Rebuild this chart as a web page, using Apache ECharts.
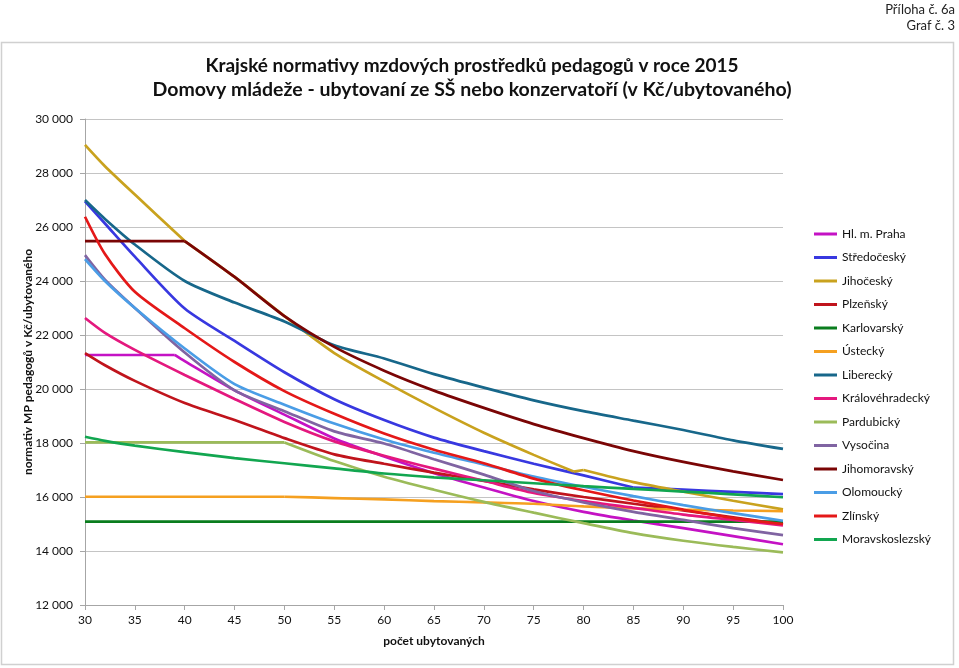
<!DOCTYPE html>
<html><head><meta charset="utf-8">
<script src="https://cdn.jsdelivr.net/npm/echarts@6/dist/echarts.min.js"></script>
<style>html,body{margin:0;padding:0;background:#fff}#c{width:959px;height:668px}</style>
</head><body><div id="c"></div>
<script>
// x positions (počet ubytovaných); null = no reading needed at that x for that series
const xValues = [30,32,35,39,40,45,48,50,55,60,65,70,75,79,80,85,90,95,100];
const seriesNames = ['Hl. m. Praha','Středočeský','Jihočeský','Plzeňský','Karlovarský','Ústecký','Liberecký','Královéhradecký','Pardubický','Vysočina','Jihomoravský','Olomoucký','Zlínský','Moravskoslezský'];
const praha           = [21260,21260,21260,21260,21030,19950,null,19050,18170,17500,16880,16350,15850,null,15450,15130,14850,14550,14250];
const stredocesky     = [26950,26130,24900,null,22980,21780,null,20620,19620,18850,18200,17700,17230,null,16800,16350,16270,16190,16110];
const jihocesky       = [29040,28250,27200,null,25480,24150,null,22700,21330,20280,19300,18380,17560,16940,17000,16550,16200,15860,15540];
const plzensky        = [21330,20880,20300,null,19480,18850,null,18180,17580,17230,16900,16600,16280,null,16000,15750,15500,15250,14980];
const karlovarsky     = [15090,15090,15090,null,15090,15090,null,15090,15090,15090,15090,15090,15090,null,15090,15090,15090,15090,15090];
const ustecky         = [16010,16010,16010,null,16010,16010,16010,16010,15960,15910,15850,15800,15750,null,15650,15580,15530,15500,15480];
const liberecky       = [27000,26300,25350,null,24000,23200,null,22500,21620,21130,20550,20050,19580,null,19180,18830,18480,18100,17780];
const kralovehradecky = [22630,22080,21450,null,20520,19630,null,18780,18060,17530,17050,16600,16150,null,15850,15600,15350,15150,14950];
const pardubicky      = [18020,18020,18020,null,18020,18020,18020,18020,17330,16750,16270,15820,15420,null,15030,14660,14380,14150,13950];
const vysocina        = [24960,24050,23000,null,21350,19950,null,19180,18430,17980,17400,16830,16220,null,15800,15450,15150,14850,14590];
const jihomoravsky    = [25480,25480,25480,25480,25480,24150,null,22700,21560,20680,19940,19300,18700,null,18180,17700,17300,16950,16630];
const olomoucky       = [24810,24000,23000,null,21500,20180,null,19420,18720,18130,17640,17200,16760,null,16380,16030,15700,15400,15120];
const zlinsky         = [26380,25000,23600,null,22250,21000,null,19920,19080,18350,17750,17250,16680,null,16250,15870,15530,15220,15000];
const moravskoslezsky = [18230,18080,17900,null,17660,17440,null,17250,17060,16870,16730,16620,16510,null,16400,16300,16200,16100,15990];
// x values where a line has a sharp corner (drawn as a break between smooth pieces)
const cornerX = [[39],[85],[40,79,80],[],[],[50],[],[],[50],[],[40],[],[],[]];

const seriesValues = [praha,stredocesky,jihocesky,plzensky,karlovarsky,ustecky,liberecky,kralovehradecky,pardubicky,vysocina,jihomoravsky,olomoucky,zlinsky,moravskoslezsky];
const colors = ['#C412C4','#3838E0','#C9A21E','#C0141C','#0A7D1E','#F5A020','#17678A','#E4187E','#9BBB59','#8064A2','#7A0505','#4A9DE6','#E41818','#12A650'];
const FONT = 'Lato, "Open Sans", sans-serif';

const series = [];
seriesNames.forEach((n,i)=>{
  const pts = xValues.map((x,j)=>[x, seriesValues[i][j]]).filter(p=>p[1]!==null);
  let seg = [];
  pts.forEach(p=>{
    seg.push(p);
    if (cornerX[i].includes(p[0])) { if (seg.length>1) series.push(mk(n,i,seg)); seg=[p]; }
  });
  if (seg.length>1) series.push(mk(n,i,seg));
});
function mk(n,i,data){
  return {name:n, type:'line', showSymbol:false, smooth:0.25,
    lineStyle:{width:2.7, color:colors[i]}, itemStyle:{color:colors[i]}, data:data.slice(), z:2+i*0.01};
}

const chart = echarts.init(document.getElementById('c'), null, {renderer:'canvas'});
chart.setOption({
  backgroundColor:'#fff',
  animation:false,
  color: colors,
  grid:{left:85, right:176, top:119, bottom:63},
  xAxis:{type:'value', min:30, max:100, interval:5,
    axisLine:{lineStyle:{color:'#A6A6A6', width:1}},
    axisTick:{show:true, length:5, lineStyle:{color:'#A6A6A6'}},
    axisLabel:{color:'#111', fontSize:12, fontFamily:FONT, margin:9},
    splitLine:{show:false}},
  yAxis:{type:'value', min:12000, max:30000, interval:2000,
    axisLine:{show:true, lineStyle:{color:'#A6A6A6', width:1}},
    axisTick:{show:true, length:5, lineStyle:{color:'#A6A6A6'}},
    axisLabel:{color:'#111', fontSize:12, fontFamily:FONT, margin:12,
      formatter:v=>String(v).replace(/\B(?=(\d{3})+(?!\d))/g,' ')},
    splitLine:{show:true, lineStyle:{color:'#C4C4C4', width:1}}},
  legend:{orient:'vertical', left:809, top:222, icon:'rect', itemWidth:23, itemHeight:3, itemGap:9.5,
    textStyle:{fontSize:12, lineHeight:14, fontFamily:FONT, color:'#111'},
    data: seriesNames},
  series: series,
  graphic:[
    {type:'rect', shape:{x:1.5, y:42.5, width:952, height:622}, style:{fill:'none', stroke:'#D0D0D0', lineWidth:1.5}, silent:true, z:-1},
    {type:'text', x:955, y:10, style:{text:'Příloha č. 6a', font:'13px '+FONT, fill:'#222', textAlign:'right', textVerticalAlign:'middle'}},
    {type:'text', x:955, y:26, style:{text:'Graf č. 3', font:'13px '+FONT, fill:'#222', textAlign:'right', textVerticalAlign:'middle'}},
    {type:'text', x:472, y:66, style:{text:'Krajské normativy mzdových prostředků pedagogů v roce 2015', font:'bold 19px '+FONT, fill:'#111', textAlign:'center', textVerticalAlign:'middle'}},
    {type:'text', x:472, y:90, style:{text:'Domovy mládeže - ubytovaní ze SŠ nebo konzervatoří (v Kč/ubytovaného)', font:'bold 19.5px '+FONT, fill:'#111', textAlign:'center', textVerticalAlign:'middle'}},
    {type:'text', x:28, y:362, rotation:Math.PI/2, style:{text:'normativ MP pedagogů v Kč/ubytovaného', font:'bold 12px '+FONT, fill:'#111', textAlign:'center', textVerticalAlign:'middle'}},
    {type:'text', x:434, y:641, style:{text:'počet ubytovaných', font:'bold 12px '+FONT, fill:'#111', textAlign:'center', textVerticalAlign:'middle'}}
  ]
});
</script></body></html>
